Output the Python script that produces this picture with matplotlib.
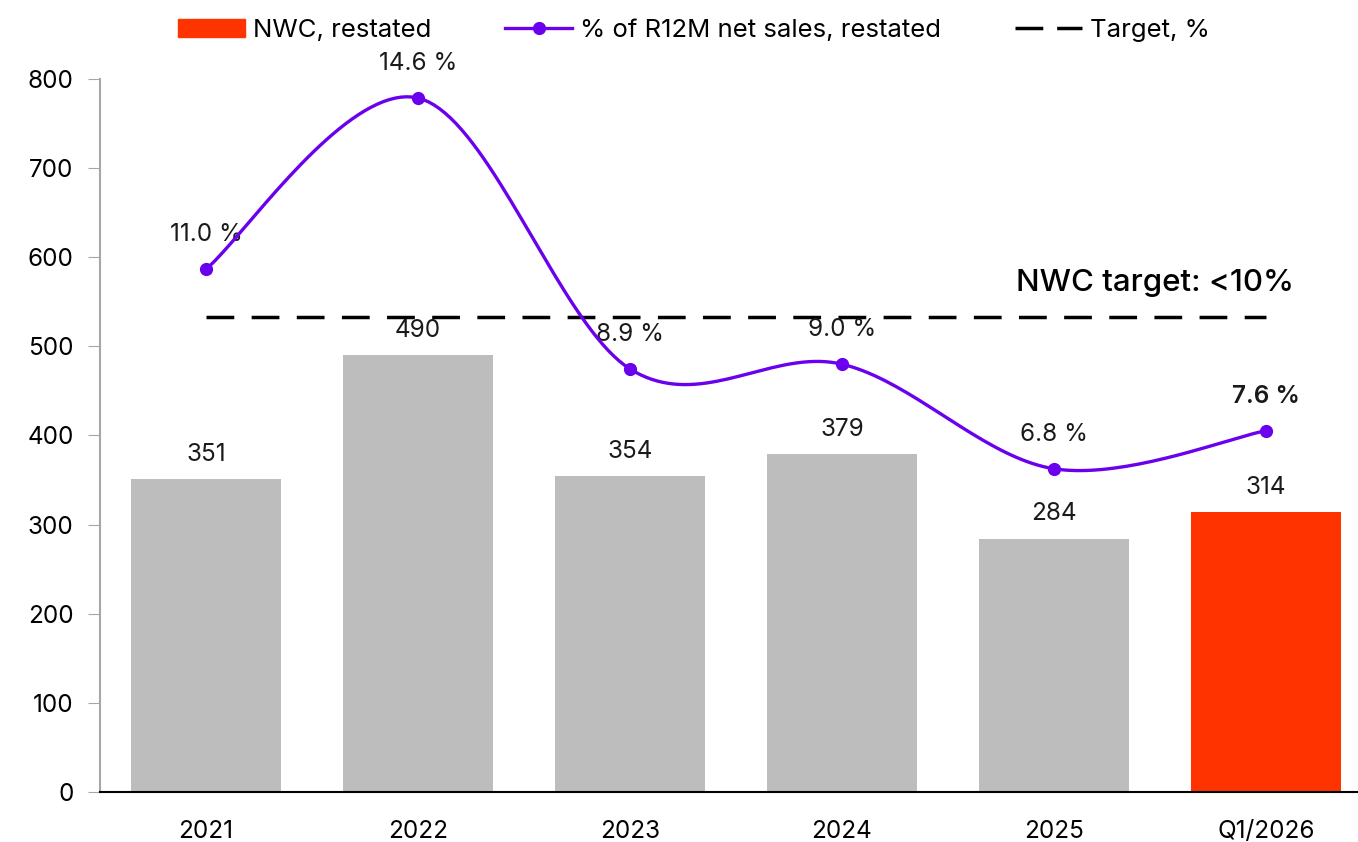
import numpy as np
import matplotlib.pyplot as plt
from matplotlib.lines import Line2D
from matplotlib.patches import Patch

plt.rcParams['font.family'] = ['Inter', 'DejaVu Sans']

categories = ["2021", "2022", "2023", "2024", "2025", "Q1/2026"]
nwc = [351, 490, 354, 379, 284, 314]
nwc_pct = [11.0, 14.6, 8.9, 9.0, 6.8, 7.6]
target_pct = 10.0

GREY = "#BDBDBD"
RED = "#FF3300"
PURPLE = "#6A00EE"


def smooth_curve(x, y, steps=40):
    # cubic bezier through the points, tangents like a Catmull-Rom spline
    px = np.asarray(x, float)
    py = np.asarray(y, float)
    xs, ys = [], []
    n = len(px)
    for i in range(n - 1):
        x0, y0 = px[max(i - 1, 0)], py[max(i - 1, 0)]
        x1, y1 = px[i], py[i]
        x2, y2 = px[i + 1], py[i + 1]
        x3, y3 = px[min(i + 2, n - 1)], py[min(i + 2, n - 1)]
        c1 = (x1 + (x2 - x0) / 6, y1 + (y2 - y0) / 6)
        c2 = (x2 - (x3 - x1) / 6, y2 - (y3 - y1) / 6)
        t = np.linspace(0, 1, steps)
        b0 = (1 - t) ** 3
        b1 = 3 * (1 - t) ** 2 * t
        b2 = 3 * (1 - t) * t ** 2
        b3 = t ** 3
        xs.append(b0 * x1 + b1 * c1[0] + b2 * c2[0] + b3 * x2)
        ys.append(b0 * y1 + b1 * c1[1] + b2 * c2[1] + b3 * y2)
    return np.concatenate(xs), np.concatenate(ys)


fig = plt.figure(figsize=(13.58, 8.42), dpi=100)
ax = fig.add_axes([0.0736, 0.0594, 0.9367, 0.8468])
x = np.arange(len(categories))

colors = [GREY] * (len(categories) - 1) + [RED]
ax.bar(x, nwc, width=0.71, color=colors, zorder=2)
for xi, v in zip(x, nwc):
    ax.text(xi, v + 15, f"{v}", ha="center", va="bottom", fontsize=17.5, color="#1a1a1a")

ax.set_xlim(-0.5, 5.5)
ax.set_ylim(0, 800)
ax.set_yticks(range(0, 801, 100))
ax.set_xticks(x)
ax.set_xticklabels(categories)
ax.tick_params(axis="x", length=0, labelsize=17.5, pad=20)
ax.tick_params(axis="y", length=9, color="#A6A6A6", labelsize=17.5, pad=10)
for s in ["top", "right"]:
    ax.spines[s].set_visible(False)
ax.spines["left"].set_color("#A6A6A6")
ax.spines["left"].set_linewidth(1.5)
ax.spines["bottom"].set_color("black")
ax.spines["bottom"].set_linewidth(1.5)

# percentage series on a hidden second axis, 0-15 %
ax2 = ax.twinx()
ax2.set_ylim(0, 15)
ax2.axis("off")

ax2.plot([x[0], x[-1]], [target_pct, target_pct], color="black", lw=2.5,
         dashes=(8, 5), zorder=3)
ax2.text(x[-1] + 0.13, target_pct + 0.42, "NWC target: <10%", ha="right", va="bottom",
         fontsize=22.5, fontweight="medium", color="black")

for i, (xi, p) in enumerate(zip(x, nwc_pct)):
    bold = i == len(x) - 1
    ax2.text(xi, p + 0.48, f"{p:.1f} %", ha="center", va="bottom", fontsize=17.5,
             fontweight="semibold" if bold else "normal", color="#1a1a1a", zorder=4)

sx, sy = smooth_curve(x, nwc_pct)
ax2.plot(sx, sy, color=PURPLE, lw=2.4, zorder=5)
ax2.plot(x, nwc_pct, "o", color=PURPLE, ms=8.5, zorder=6)

handles = [
    Patch(color=RED),
    Line2D([], [], color=PURPLE, lw=2.4, marker="o", ms=8.5),
    Line2D([], [], color="black", lw=2.5, dashes=(8, 4)),
]
labels = ["NWC, restated", "% of R12M net sales, restated", "Target, %"]
fig.legend(handles, labels, loc="upper center", bbox_to_anchor=(0.511, 1.005), ncol=3,
           frameon=False, fontsize=18.5, handlelength=2.6, columnspacing=2.9,
           handletextpad=0.3)

fig.savefig("out.png", dpi=100)
